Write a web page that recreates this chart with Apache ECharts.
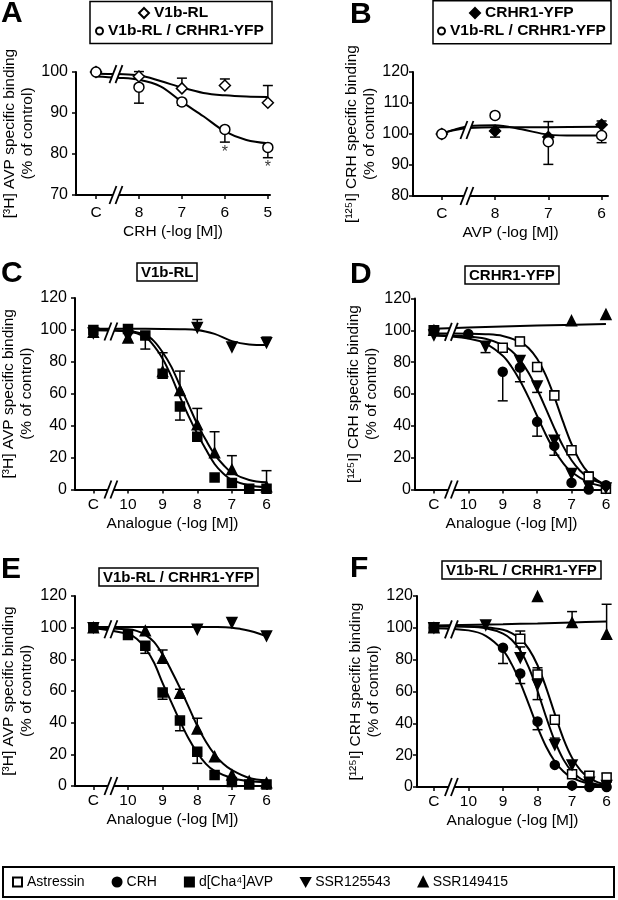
<!DOCTYPE html>
<html>
<head>
<meta charset="utf-8">
<script src="https://cdn.jsdelivr.net/npm/echarts@6/dist/echarts.min.js"></script>
<style>
  html, body { margin: 0; padding: 0; background: #fff; }
  #main { width: 618px; height: 900px; }
</style>
</head>
<body>
<div id="main"></div>
<script>
// x values are -log[M]; the control point "C" sits one slot left of the first dose
// ---------- A : [3H]AVP binding vs CRH ----------
const aV1b = [[9, 100], [8, 98.9], [7, 96], [6, 96.7], [5, 92.5]]
const aV1bErr = [[8, 98.9, 100.1], [7, 96, 98.5], [6, 96.7, 98.3], [5, 92.5, 96.7]]
const aV1bFit = [[9, 99.6], [8.5, 99.5], [8, 99.2], [7.5, 97.8], [7, 96.2], [6.5, 94.9], [6, 94.3], [5.5, 94], [5, 93.9]]
const aDual = [[9, 100], [8, 96.3], [7, 92.7], [6, 86], [5, 81.6]]
const aDualErr = [[8, 96.3, 92.4], [7, 92.7, 91.9], [6, 86, 82.9], [5, 81.6, 79.1]]
const aDualFit = [[9, 98.9], [8.5, 98.6], [8, 98.1], [7.5, 96.5], [7, 92.7], [6.5, 89.2], [6, 85.5], [5.5, 83.4], [5, 82.6]]
const aStars = [[6, 82.9], [5, 79.1]]

// ---------- B : [125I]CRH binding vs AVP ----------
const bCrhr = [[9, 100], [8, 101], [7, 99], [6, 103]]
const bCrhrErr = [[8, 101, 99], [6, 103, 104.2]]
const bCrhrFit = [[9, 100.2], [8.75, 101.3], [8.5, 101.9], [8, 102.2], [7, 102.2], [6, 102.3]]
const bDual = [[9, 100], [8, 106], [7, 97.5], [6, 99.5]]
const bDualErr = [[7, 97.5, 104], [7, 97.5, 90.2], [6, 99.5, 97.2]]
const bDualFit = [[9, 100], [8.75, 101.5], [8.5, 102.5], [8, 102.8], [7.5, 101.5], [7, 99.8], [6.5, 99.5], [6, 99.5]]

// ---------- C : V1b-RL ----------
const cAvp = [[11, 100], [10, 100.5], [9.5, 96.5], [9, 72.5], [8.5, 52], [8, 33], [7.5, 7.5], [7, 4], [6.5, 0.5], [6, 0.5]]
const cAvpErr = [[9.5, 96.5, 88], [8.5, 52, 43.5]]
const cAvpFit = [[11, 99.8], [10, 99], [9.5, 95.5], [9.25, 90], [9, 82], [8.75, 71], [8.5, 58], [8.25, 46], [8, 35], [7.75, 25], [7.5, 16], [7.25, 10], [7, 6], [6.5, 2.5], [6, 1.5]]
const c149 = [[11, 98.5], [10, 95], [9, 74], [8.5, 62], [8, 40.5], [7.5, 23], [7, 12.5], [6, 1.8]]
const c149Err = [[9, 74, 85.7], [8.5, 62, 74.2], [8, 40.5, 50.8], [7.5, 23, 36.2], [7, 12.5, 21.2], [6, 1.8, 11.8]]
const c149Fit = [[11, 100], [10, 99.3], [9.5, 97], [9.25, 93], [9, 86], [8.75, 77], [8.5, 65], [8.25, 53], [8, 41], [7.75, 31], [7.5, 22], [7.25, 15.5], [7, 10.5], [6.5, 6], [6, 4.5]]
const c125 = [[11, 98], [10, 96], [8, 101.5], [7, 89.3], [6, 92]]
const c125Err = [[8, 101.5, 106.5], [6, 92, 95.5]]
const c125Fit = [[11, 100.7], [10, 100.7], [9, 100.6], [8.5, 100.4], [8, 100], [7.5, 97.5], [7, 93], [6.5, 90.9], [6, 90.5]]

// ---------- D : CRHR1-YFP ----------
const dAst = [[11, 100], [9, 89], [8.5, 93], [8, 77], [7.5, 59], [7, 24.7], [6.5, 8], [6, 0.5]]
const dAstErr = [[8.5, 93, 95.6], [7.5, 59, 62], [6.5, 8, 11]]
const dAstFit = [[11, 98], [10, 97.9], [9.5, 97.6], [9, 96.5], [8.5, 92.9], [8.25, 88.9], [8, 82.1], [7.75, 71.9], [7.5, 58.2], [7.25, 42.8], [7, 28.6], [6.75, 17.6], [6.5, 10.2], [6.25, 5.7], [6, 3.1]]
const dCrh = [[11, 100], [10, 97.7], [9, 74], [8.5, 76.7], [8, 42.5], [7.5, 27.4], [7, 4.2], [6.5, 0], [6, 2.7]]
const dCrhErr = [[9, 74, 55.7], [8, 42.5, 33.5], [7.5, 27.4, 21.5]]
const dCrhFit = [[11, 96.7], [10, 94.9], [9.5, 91.6], [9, 84], [8.75, 77.3], [8.5, 68.5], [8.25, 57.9], [8, 46.2], [7.75, 34.6], [7.5, 24.6], [7.25, 16.8], [7, 11], [6.5, 4.5], [6, 1.7]]
const d125 = [[11, 97], [9.5, 90], [8.5, 81], [8, 65], [7.5, 31], [7, 10], [6.5, 2], [6, 1]]
const d125Err = [[9.5, 90, 86], [8.5, 81, 67.7], [8, 65, 61]]
const d125Fit = [[11, 96.9], [10, 96.2], [9.5, 94.7], [9, 90.9], [8.75, 87.1], [8.5, 81.5], [8.25, 73.4], [8, 63], [7.75, 51], [7.5, 38.6], [7.25, 27.4], [7, 18.4], [6.75, 11.8], [6.5, 7.4], [6, 2.8]]
const d149 = [[11, 100], [7, 106], [6, 110]]
const d149Fit = [[11, 101], [10, 101.8], [8, 103], [6, 104]]
const dAvp = [[11, 100]]

// ---------- E : V1b-RL / CRHR1-YFP, [3H]AVP ----------
const eAvp = [[11, 100], [10, 95.4], [9.5, 88.6], [9, 59], [8.5, 41.3], [8, 21.7], [7.5, 7], [7, 2.5], [6.5, 1], [6, 1]]
const eAvpErr = [[9.5, 88.6, 83.8], [9, 59, 54.8], [8.5, 41.3, 34.9], [8, 21.7, 14.3]]
const eAvpFit = [[11, 99.8], [10, 96], [9.75, 93], [9.5, 87], [9.25, 78], [9, 65], [8.75, 53], [8.5, 41], [8.25, 30], [8, 21], [7.75, 14], [7.5, 9.5], [7, 5], [6.5, 3], [6, 2.5]]
const e149 = [[11, 100], [9.5, 98], [9, 80.7], [8.5, 58.6], [8, 36], [7.5, 18.5], [7, 7], [6.5, 3], [6, 2]]
const e149Err = [[9, 80.7, 85.9], [8.5, 58.6, 61.1], [8, 36, 42.8]]
const e149Fit = [[11, 100], [10, 99], [9.75, 98], [9.5, 95.5], [9.25, 91], [9, 83], [8.75, 73], [8.5, 62], [8.25, 50], [8, 38], [7.75, 28], [7.5, 20], [7.25, 14], [7, 10], [6.5, 5], [6, 3.5]]
const e125 = [[11, 100], [8, 99], [7, 103.2], [6, 94.8]]
const e125Err = [[8, 99, 101.7]]
const e125Fit = [[11, 100.5], [9, 100.5], [8, 100.5], [7.5, 100.4], [7, 100], [6.75, 99.2], [6.5, 98], [6.25, 96.5], [6, 94.5]]

// ---------- F : V1b-RL / CRHR1-YFP, [125I]CRH ----------
const fAst = [[11, 100], [8.5, 93.2], [8, 70.7], [7.5, 42.3], [7, 8], [6.5, 7], [6, 6]]
const fAstErr = [[8.5, 93.2, 98], [8, 70.7, 74.9], [6.5, 7, 9.5], [6, 6, 8.5]]
const fAstFit = [[11, 101], [10, 100.9], [9.5, 100.4], [9, 98.8], [8.75, 96.7], [8.5, 93.1], [8.25, 86.6], [8, 76.5], [7.75, 62.3], [7.5, 45.9], [7.25, 30.3], [7, 18.3], [6.75, 10.3], [6.5, 5.6], [6.25, 2.9], [6, 1.5]]
const fCrh = [[11, 100], [9, 87.5], [8.5, 71.3], [8, 41.2], [7.5, 13.9], [7, 1], [6.5, 0], [6, 0]]
const fCrhErr = [[9, 87.5, 77.6], [8.5, 71.3, 65], [8, 41.2, 36]]
const fCrhFit = [[11, 99.8], [10, 98.4], [9.5, 95], [9, 85.8], [8.75, 77.2], [8.5, 65.6], [8.25, 51.7], [8, 37.6], [7.75, 25.3], [7.5, 16], [7.25, 9.7], [7, 5.7], [6.5, 1.9], [6, 0.6]]
const f125 = [[11, 100], [9.5, 101.8], [8.5, 81.2], [8, 64.4], [7.5, 26.5], [7, 13.9], [6.5, 3], [6, 1]]
const f125Err = [[8.5, 81.2, 88], [8, 64.4, 54.9], [7.5, 26.5, 30.7]]
const f125Fit = [[11, 101], [10, 100.7], [9.5, 99.7], [9, 96.4], [8.75, 92.5], [8.5, 85.7], [8.25, 75], [8, 60.3], [7.75, 43.8], [7.5, 28.8], [7.25, 17.2], [7, 9.6], [6.75, 5.2], [6.5, 2.8], [6, 0.7]]
const f149 = [[11, 100], [8, 119.7], [7, 103.3], [6, 95.9]]
const f149Err = [[7, 103.3, 110.2], [6, 95.9, 114.8]]
const f149Fit = [[11, 101.5], [9, 102.3], [8, 102.8], [7, 103.4], [6, 104]]
const fAvp = [[11, 100]]

const doseTicksA = [9, 8, 7, 6, 5]
const doseTicksB = [9, 8, 7, 6]
const doseTicksAnalogue = [11, 10, 9, 8, 7, 6]

// ---------- styling ----------
const FONT = '"Liberation Sans", Arial, Helvetica, sans-serif'
const BLACK = '#000'
const DOWN = 'path://M0,0L10,0L5,9Z'

const marks = {
  'Astressin': { symbol: 'rect', fill: '#fff', size: 9 },
  'CRH': { symbol: 'circle', fill: BLACK, size: 9 },
  'd[Cha⁴]AVP': { symbol: 'rect', fill: BLACK, size: 9 },
  'SSR125543': { symbol: 'triangle', fill: BLACK, size: 10, rotate: 180 },
  'SSR149415': { symbol: 'triangle', fill: BLACK, size: 10 },
  'V1b-RL': { symbol: 'diamond', fill: '#fff', size: 11 },
  'V1b-RL / CRHR1-YFP': { symbol: 'circle', fill: '#fff', size: 10 },
  'CRHR1-YFP': { symbol: 'diamond', fill: BLACK, size: 11 }
}

const panels = [
  { grid: { left: 76, top: 72, width: 194, height: 123 }, x: [4.95, 9.465], c: 9, ticks: doseTicksA,
    y: [70, 100, 10], xName: 'CRH (-log [M])', yName: '[³H] AVP specific binding\n(% of control)', right: false, top: true, brk: 8.5, brkY: 99.5,
    groups: [
      ['V1b-RL', aV1b, aV1bErr, aV1bFit],
      ['V1b-RL / CRHR1-YFP', aDual, aDualErr, aDualFit]
    ] },
  { grid: { left: 413, top: 72, width: 195, height: 124 }, x: [5.88, 9.54], c: 9, ticks: doseTicksB,
    y: [80, 120, 10], xName: 'AVP (-log [M])', yName: '[¹²⁵I] CRH specific binding\n(% of control)', right: true, top: true, brk: 8.5, brkY: 101.3,
    groups: [
      ['CRHR1-YFP', bCrhr, bCrhrErr, bCrhrFit],
      ['V1b-RL / CRHR1-YFP', bDual, bDualErr, bDualFit]
    ] },
  { grid: { left: 75, top: 298, width: 195, height: 191.5 }, x: [5.9, 11.53], c: 11, ticks: doseTicksAnalogue,
    y: [0, 120, 20], xName: 'Analogue (-log [M])', yName: '[³H] AVP specific binding\n(% of control)', right: false, brk: 10.45, brkY: 99,
    groups: [
      ['SSR125543', c125, c125Err, c125Fit],
      ['SSR149415', c149, c149Err, c149Fit],
      ['d[Cha⁴]AVP', cAvp, cAvpErr, cAvpFit]
    ] },
  { grid: { left: 415, top: 298.5, width: 193, height: 191 }, x: [5.94, 11.55], c: 11, ticks: doseTicksAnalogue,
    y: [0, 120, 20], xName: 'Analogue (-log [M])', yName: '[¹²⁵I] CRH specific binding\n(% of control)', right: true, brk: 10.45, brkY: 99,
    groups: [
      ['SSR149415', d149, [], d149Fit],
      ['Astressin', dAst, dAstErr, dAstFit],
      ['SSR125543', d125, d125Err, d125Fit],
      ['CRH', dCrh, dCrhErr, dCrhFit],
      ['d[Cha⁴]AVP', dAvp, [], []]
    ] },
  { grid: { left: 75, top: 596, width: 195, height: 190 }, x: [5.9, 11.53], c: 11, ticks: doseTicksAnalogue,
    y: [0, 120, 20], xName: 'Analogue (-log [M])', yName: '[³H] AVP specific binding\n(% of control)', right: false, brk: 10.45, brkY: 99,
    groups: [
      ['SSR125543', e125, e125Err, e125Fit],
      ['SSR149415', e149, e149Err, e149Fit],
      ['d[Cha⁴]AVP', eAvp, eAvpErr, eAvpFit]
    ] },
  { grid: { left: 417, top: 596, width: 191, height: 191 }, x: [5.96, 11.49], c: 11, ticks: doseTicksAnalogue,
    y: [0, 120, 20], xName: 'Analogue (-log [M])', yName: '[¹²⁵I] CRH specific binding\n(% of control)', right: true, brk: 10.45, brkY: 99,
    groups: [
      ['SSR149415', f149, f149Err, f149Fit],
      ['Astressin', fAst, fAstErr, fAstFit],
      ['SSR125543', f125, f125Err, f125Fit],
      ['CRH', fCrh, fCrhErr, fCrhFit],
      ['d[Cha⁴]AVP', fAvp, [], []]
    ] }
]

function errorSeries(i, data) {
  return {
    type: 'custom', xAxisIndex: i, yAxisIndex: i, z: 3, silent: true, data,
    encode: { x: 0, y: [1, 2] },
    renderItem(params, api) {
      const a = api.coord([api.value(0), api.value(1)])
      const b = api.coord([api.value(0), api.value(2)])
      const st = { stroke: BLACK, lineWidth: 1.5 }
      return { type: 'group', children: [
        { type: 'line', shape: { x1: a[0], y1: a[1], x2: b[0], y2: b[1] }, style: st },
        { type: 'line', shape: { x1: b[0] - 5, y1: b[1], x2: b[0] + 5, y2: b[1] }, style: st }
      ] }
    }
  }
}

const grids = [], xAxes = [], yAxes = [], series = []
panels.forEach((p, i) => {
  grids.push(Object.assign({ containLabel: false, outerBoundsMode: 'none' }, p.grid))
  xAxes.push({
    gridIndex: i, type: 'value', inverse: true, min: p.x[0], max: p.x[1],
    axisLine: { show: true, onZero: false, lineStyle: { color: BLACK, width: 2 } },
    axisTick: { show: true, customValues: p.ticks, length: 4, lineStyle: { color: BLACK, width: 1.5 } },
    axisLabel: { customValues: p.ticks, formatter: v => (v === p.c ? 'C' : String(v)),
      color: BLACK, fontFamily: FONT, fontSize: 15.5, margin: p.top ? 10 : 7 },
    splitLine: { show: false },
    name: p.xName, nameLocation: 'middle', nameGap: p.top ? 29 : 26,
    nameTextStyle: { color: BLACK, fontFamily: FONT, fontSize: 15.5 }
  })
  yAxes.push({
    gridIndex: i, type: 'value', min: p.y[0], max: p.y[1], interval: p.y[2],
    axisLine: { show: true, lineStyle: { color: BLACK, width: 2 } },
    axisTick: { show: true, length: 4, lineStyle: { color: BLACK, width: 1.5 } },
    axisLabel: { color: BLACK, fontFamily: FONT, fontSize: 16, margin: p.right ? 4 : 8 },
    splitLine: { show: false },
    name: p.yName, nameLocation: 'middle', nameGap: p.right ? 34 : 39,
    nameTextStyle: { color: BLACK, fontFamily: FONT, fontSize: 15.5, lineHeight: 18, align: 'center' }
  })
  p.groups.forEach(([name, pts, errs, fit]) => {
    const m = marks[name]
    if (fit.length) {
      series.push({ type: 'line', name: name + ' fit', xAxisIndex: i, yAxisIndex: i, data: fit, z: 2,
        symbol: 'none', smooth: 0.35, silent: true, lineStyle: { color: BLACK, width: 2 } })
    }
    if (errs.length) series.push(errorSeries(i, errs))
    series.push({ type: 'scatter', name, xAxisIndex: i, yAxisIndex: i, data: pts, z: 4,
      symbol: m.symbol, symbolSize: m.size, symbolRotate: m.rotate || 0,
      itemStyle: { color: m.fill, borderColor: BLACK, borderWidth: 1.5, opacity: 1 } })
  })
})
series.push({ type: 'scatter', name: 'sig', xAxisIndex: 0, yAxisIndex: 0, data: aStars, symbolSize: 0, z: 5,
  label: { show: true, formatter: '*', position: 'bottom', distance: 2, color: BLACK, fontFamily: FONT, fontSize: 16 } })

const boldLegend = { fontFamily: FONT, fontSize: 15.5, fontWeight: 'bold', color: BLACK }
const legends = [
  { data: ['V1b-RL'], left: 138, top: 5, itemWidth: 10, itemHeight: 10 },
  { data: ['V1b-RL / CRHR1-YFP'], left: 95, top: 23, itemWidth: 7, itemHeight: 7 },
  { data: ['CRHR1-YFP'], left: 469, top: 5, itemWidth: 10, itemHeight: 10 },
  { data: ['V1b-RL / CRHR1-YFP'], left: 437, top: 23, itemWidth: 7, itemHeight: 7 }
].map(l => Object.assign({ orient: 'horizontal', selectedMode: false, padding: 0, textStyle: boldLegend }, l))
legends.push({
  data: ['Astressin', 'CRH', 'd[Cha⁴]AVP', { name: 'SSR125543', icon: DOWN }, 'SSR149415'],
  left: 12, top: 875, orient: 'horizontal', selectedMode: false, padding: 0,
  itemWidth: 9, itemHeight: 9, itemGap: 27,
  textStyle: { fontFamily: FONT, fontSize: 14, color: BLACK }
})

const letterStyle = { fontFamily: FONT, fontSize: 30, fontWeight: 'bold', color: BLACK }
const boxStyle = { fontFamily: FONT, fontSize: 15, fontWeight: 'bold', color: BLACK }
const titles = [
  { text: 'A', left: 1, top: -1, textStyle: letterStyle },
  { text: 'B', left: 350, top: 0, textStyle: letterStyle },
  { text: 'C', left: 1, top: 259, textStyle: letterStyle },
  { text: 'D', left: 350, top: 260, textStyle: letterStyle },
  { text: 'E', left: 1, top: 555, textStyle: letterStyle },
  { text: 'F', left: 350, top: 554, textStyle: letterStyle },
  { text: 'V1b-RL', left: 137, top: 263, textStyle: boxStyle },
  { text: 'CRHR1-YFP', left: 465, top: 266, textStyle: boxStyle },
  { text: 'V1b-RL / CRHR1-YFP', left: 99, top: 568, textStyle: boxStyle },
  { text: 'V1b-RL / CRHR1-YFP', left: 442, top: 561, textStyle: boxStyle }
].map((t, i) => Object.assign({ padding: i >= 6 ? [2, 4, 1, 4] : 0,
  borderColor: BLACK, borderWidth: i >= 6 ? 1.5 : 0 }, t))

const chart = echarts.init(document.getElementById('main'), null, { renderer: 'canvas' })
chart.setOption({
  backgroundColor: '#fff',
  animation: false,
  title: titles,
  legend: legends,
  grid: grids,
  xAxis: xAxes,
  yAxis: yAxes,
  series
})

// axis breaks ("//") and the boxes around the legends, placed through the axes
function breakMark(pt) {
  const [x, y] = pt
  const st = { stroke: BLACK, lineWidth: 1.8 }
  return [
    { type: 'polygon', shape: { points: [[x - 8, y + 9], [x - 1, y - 9], [x + 5, y - 9], [x - 2, y + 9]] },
      style: { fill: '#fff' }, z: 100 },
    { type: 'line', shape: { x1: x - 8, y1: y + 9, x2: x - 1, y2: y - 9 }, style: st, z: 101 },
    { type: 'line', shape: { x1: x - 2, y1: y + 9, x2: x + 5, y2: y - 9 }, style: st, z: 101 }
  ]
}
const graphic = []
panels.forEach((p, i) => {
  graphic.push(...breakMark(chart.convertToPixel({ gridIndex: i }, [p.brk, p.y[0]])))
  graphic.push(...breakMark(chart.convertToPixel({ gridIndex: i }, [p.brk, p.brkY])))
})
const frame = { fill: 'none', stroke: BLACK, lineWidth: 1.5 }
graphic.push({ type: 'rect', shape: { x: 90, y: 1.5, width: 182, height: 42 }, style: frame, z: 100 })
graphic.push({ type: 'rect', shape: { x: 433, y: 0.75, width: 178, height: 43 }, style: frame, z: 100 })
graphic.push({ type: 'rect', shape: { x: 3, y: 867, width: 611, height: 30 }, style: { fill: 'none', stroke: BLACK, lineWidth: 2 }, z: 100 })
chart.setOption({ graphic })
</script>
</body>
</html>
